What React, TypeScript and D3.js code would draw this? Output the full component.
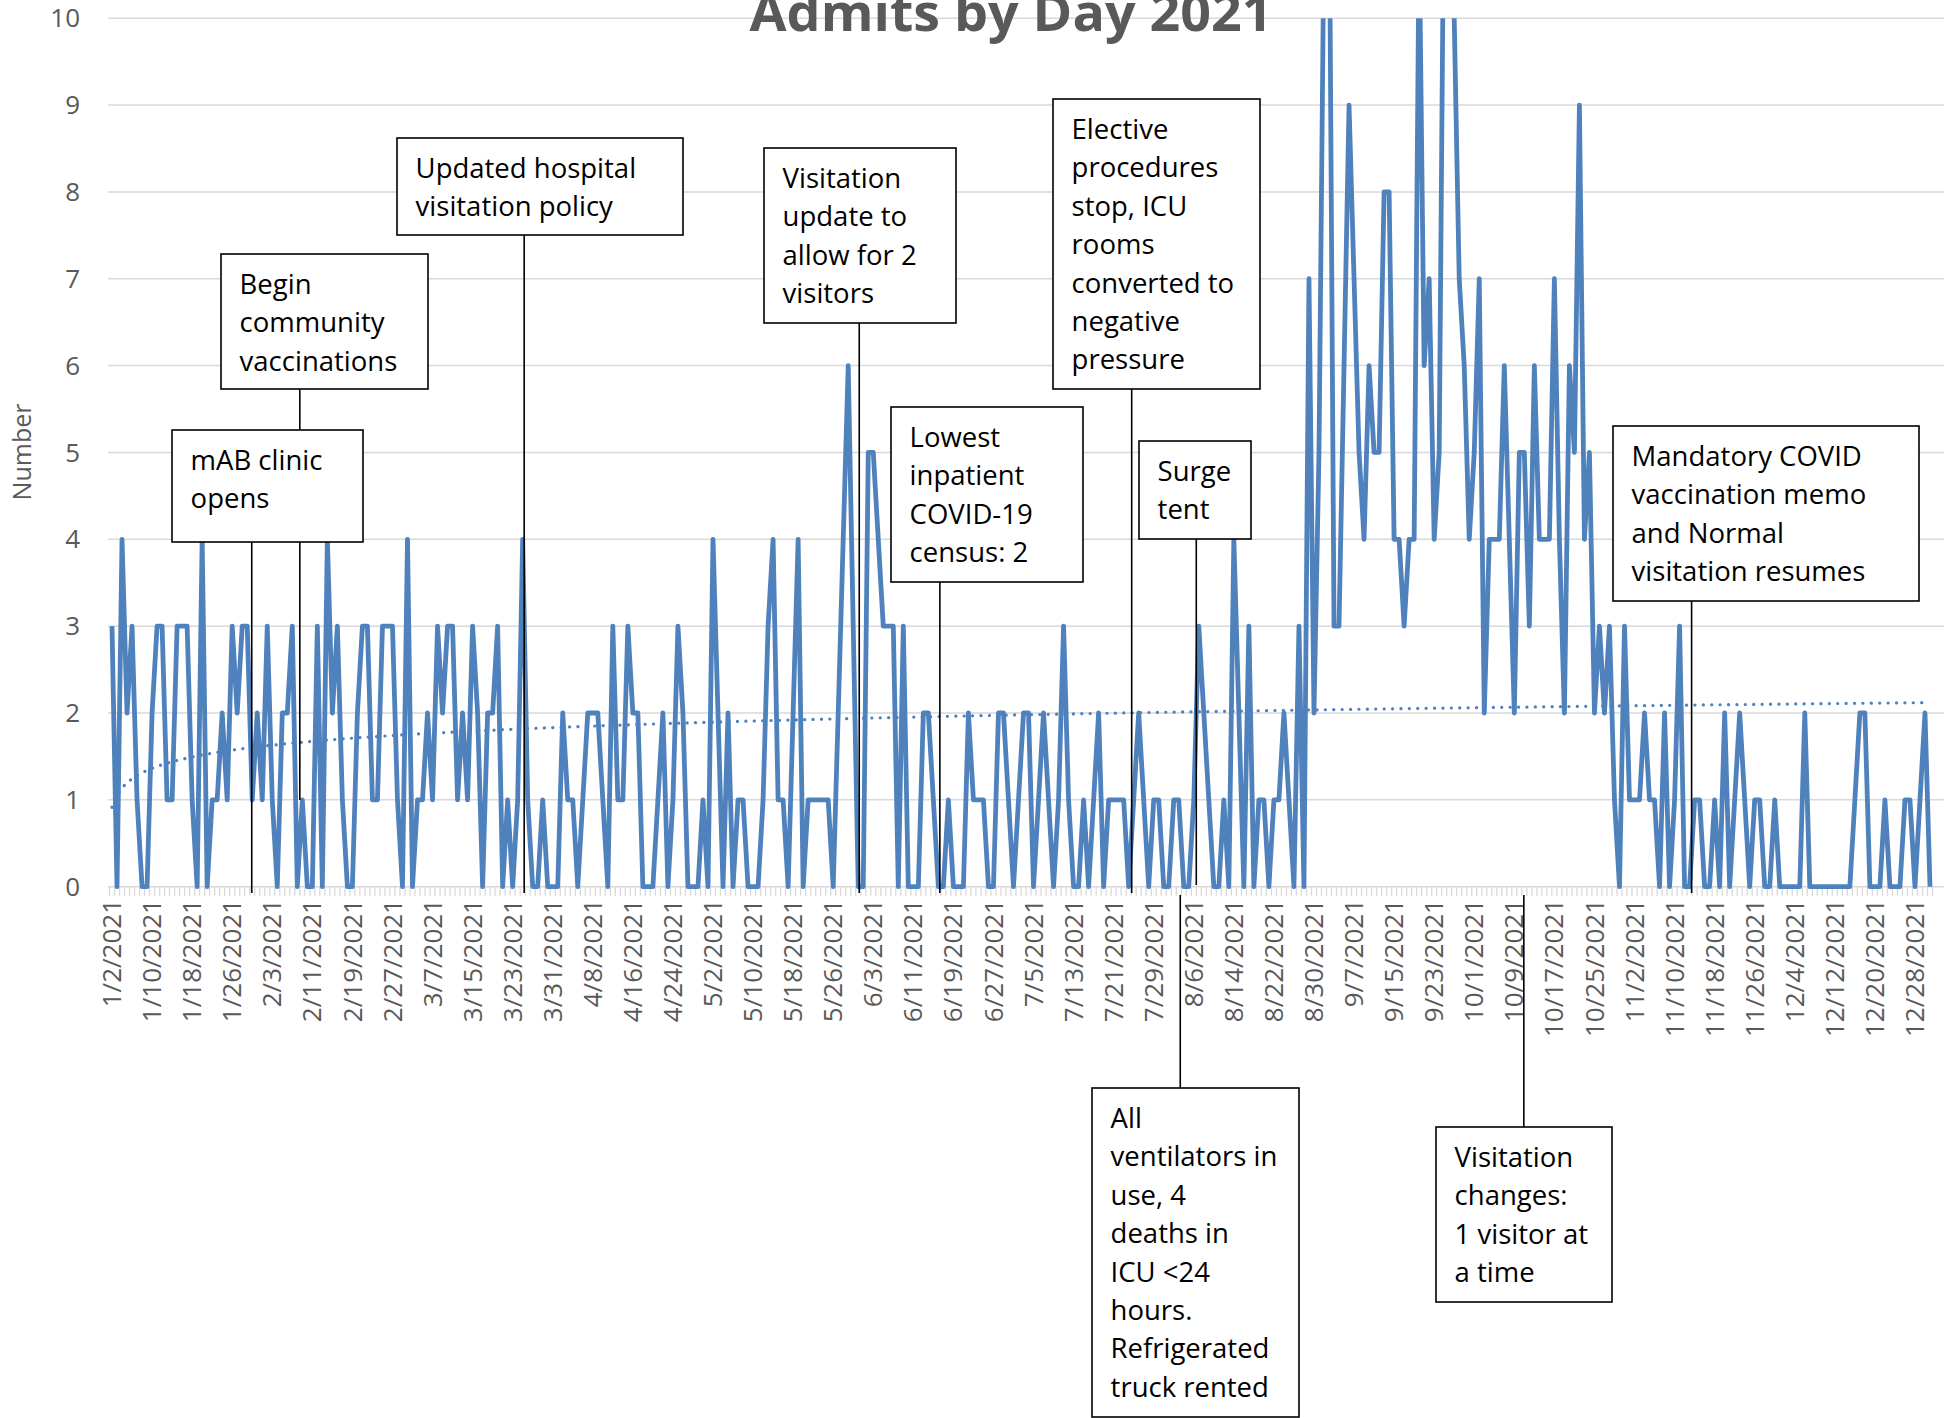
import React from 'react';
import * as d3 from 'd3';

const TITLE = 'Admits by Day 2021';
const Y_TITLE = 'Number';
const START_DATE = '1/2/2021';

// Daily admits, 1/2/2021 .. 12/31/2021
const ADMITS: number[] = [
  3, 0, 4, 2, 3, 1, 0, 0, 2, 3,
  3, 1, 1, 3, 3, 3, 1, 0, 4, 0,
  1, 1, 2, 1, 3, 2, 3, 3, 1, 2,
  1, 3, 1, 0, 2, 2, 3, 0, 1, 0,
  0, 3, 0, 4, 2, 3, 1, 0, 0, 2,
  3, 3, 1, 1, 3, 3, 3, 1, 0, 4,
  0, 1, 1, 2, 1, 3, 2, 3, 3, 1,
  2, 1, 3, 2, 0, 2, 2, 3, 0, 1,
  0, 1, 4, 1, 0, 0, 1, 0, 0, 0,
  2, 1, 1, 0, 1, 2, 2, 2, 1, 0,
  3, 1, 1, 3, 2, 2, 0, 0, 0, 1,
  2, 0, 1, 3, 2, 0, 0, 0, 1, 0,
  4, 2, 0, 2, 0, 1, 1, 0, 0, 0,
  1, 3, 4, 1, 1, 0, 2, 4, 0, 1,
  1, 1, 1, 1, 0, 2, 4, 6, 3, 0,
  0, 5, 5, 4, 3, 3, 3, 0, 3, 0,
  0, 0, 2, 2, 1, 0, 0, 1, 0, 0,
  0, 2, 1, 1, 1, 0, 0, 2, 2, 1,
  0, 1, 2, 2, 0, 1, 2, 1, 0, 1,
  3, 1, 0, 0, 1, 0, 1, 2, 0, 1,
  1, 1, 1, 0, 1, 2, 1, 0, 1, 1,
  0, 0, 1, 1, 0, 0, 1, 3, 2, 1,
  0, 0, 1, 0, 4, 2, 0, 3, 0, 1,
  1, 0, 1, 1, 2, 1, 0, 3, 0, 7,
  2, 5, 11, 12, 3, 3, 6, 9, 7, 5,
  4, 6, 5, 5, 8, 8, 4, 4, 3, 4,
  4, 11, 6, 7, 4, 5, 12, 13, 10, 7,
  6, 4, 5, 7, 2, 4, 4, 4, 6, 4,
  2, 5, 5, 3, 6, 4, 4, 4, 7, 4,
  2, 6, 5, 9, 4, 5, 2, 3, 2, 3,
  1, 0, 3, 1, 1, 1, 2, 1, 1, 0,
  2, 0, 1, 3, 0, 0, 1, 1, 0, 0,
  1, 0, 2, 0, 1, 2, 1, 0, 1, 1,
  0, 0, 1, 0, 0, 0, 0, 0, 2, 0,
  0, 0, 0, 0, 0, 0, 0, 0, 1, 2,
  2, 0, 0, 0, 1, 0, 0, 0, 1, 1,
  0, 1, 2, 0,
];

const X_TICK_STEP = 8;
const X_TICK_LABELS = [
  '1/2/2021', '1/10/2021', '1/18/2021', '1/26/2021', '2/3/2021', '2/11/2021',
  '2/19/2021', '2/27/2021', '3/7/2021', '3/15/2021', '3/23/2021', '3/31/2021',
  '4/8/2021', '4/16/2021', '4/24/2021', '5/2/2021', '5/10/2021', '5/18/2021',
  '5/26/2021', '6/3/2021', '6/11/2021', '6/19/2021', '6/27/2021', '7/5/2021',
  '7/13/2021', '7/21/2021', '7/29/2021', '8/6/2021', '8/14/2021', '8/22/2021',
  '8/30/2021', '9/7/2021', '9/15/2021', '9/23/2021', '10/1/2021', '10/9/2021',
  '10/17/2021', '10/25/2021', '11/2/2021', '11/10/2021', '11/18/2021', '11/26/2021',
  '12/4/2021', '12/12/2021', '12/20/2021', '12/28/2021',
];

const Y_TICKS = [0, 1, 2, 3, 4, 5, 6, 7, 8, 9, 10];

// Annotation texts and the (fractional) day index they point at
const ANNOTATION_TEXT: string[][] = [
  ['mAB clinic', 'opens'],
  ['Begin', 'community', 'vaccinations'],
  ['Updated hospital', 'visitation policy'],
  ['Visitation', 'update to', 'allow for 2', 'visitors'],
  ['Lowest', 'inpatient', 'COVID-19', 'census: 2'],
  ['Elective', 'procedures', 'stop, ICU', 'rooms', 'converted to', 'negative', 'pressure'],
  ['Surge', 'tent'],
  ['Mandatory COVID', 'vaccination memo', 'and Normal', 'visitation resumes'],
  ['All', 'ventilators in', 'use, 4', 'deaths in', 'ICU <24', 'hours.', 'Refrigerated', 'truck rented'],
  ['Visitation', 'changes:', '1 visitor at', 'a time'],
];
const ANNOTATION_DAY = [27.9, 37.5, 82.3, 149.2, 165.3, 203.6, 216.5, 315.4, 213.3, 281.9];

// Layout of callout boxes (x, y, w, h) and connector vertical extent (y1, y2)
const BOX_LAYOUT = [
  { x: 172, y: 430, w: 191, h: 112, c1: 542, c2: 893 },
  { x: 221, y: 254, w: 207, h: 135, c1: 389, c2: 800 },
  { x: 397, y: 138, w: 286, h: 97, c1: 235, c2: 893 },
  { x: 764, y: 148, w: 192, h: 175, c1: 323, c2: 893 },
  { x: 891, y: 407, w: 192, h: 175, c1: 582, c2: 893 },
  { x: 1053, y: 99, w: 207, h: 290, c1: 389, c2: 893 },
  { x: 1139, y: 441, w: 112, h: 98, c1: 539, c2: 885 },
  { x: 1613, y: 426, w: 306, h: 175, c1: 601, c2: 893 },
  { x: 1092, y: 1088, w: 207, h: 329, c1: 895, c2: 1088 },
  { x: 1436, y: 1127, w: 176, h: 175, c1: 895, c2: 1127 },
];

export default function App() {
  const W = 1944;
  const H = 1418;
  const n = ADMITS.length;
  const x = d3.scaleLinear().domain([-0.5, n - 0.5]).range([109.5, 1932.5]);
  const y = d3.scaleLinear().domain([0, 10]).range([886.7, 18.2]);

  const line = d3
    .line<number>()
    .x((_, i) => x(i))
    .y((d) => y(d));

  // Logarithmic trendline (least squares on ln(x), x = 1..n)
  const lx = ADMITS.map((_, i) => Math.log(i + 1));
  const mx = d3.mean(lx) as number;
  const my = d3.mean(ADMITS) as number;
  let sxy = 0;
  let sxx = 0;
  for (let i = 0; i < n; i++) {
    sxy += (lx[i] - mx) * (ADMITS[i] - my);
    sxx += (lx[i] - mx) * (lx[i] - mx);
  }
  const b = sxy / sxx;
  const a = my - b * mx;
  const trend = ADMITS.map((_, i) => a + b * Math.log(i + 1));

  const gray = '#595959';
  const grid = '#d9d9d9';
  const blue = '#4f81bd';
  const font = "'Open Sans', 'DejaVu Sans', sans-serif";

  return (
    <svg
      width={W}
      height={H}
      viewBox={`0 0 ${W} ${H}`}
      style={{ position: 'absolute', left: 0, top: 0, background: '#fff' }}
      data-start={START_DATE}
    >
      <defs>
        <clipPath id="plotClip">
          <rect x={100} y={y(10)} width={W - 100} height={y(0) - y(10) + 4} />
        </clipPath>
      </defs>
      <rect x={0} y={0} width={W} height={H} fill="#fff" />

      {/* gridlines */}
      {Y_TICKS.map((t) => (
        <line key={'g' + t} x1={108} x2={W} y1={y(t)} y2={y(t)} stroke={grid} strokeWidth={1.5} />
      ))}
      {/* minor day ticks */}
      {d3.range(n + 1).map((i) => (
        <line
          key={'t' + i}
          x1={x(i - 0.5)}
          x2={x(i - 0.5)}
          y1={y(0)}
          y2={y(0) + 9}
          stroke={grid}
          strokeWidth={1.3}
        />
      ))}

      {/* title */}
      <text
        x={1011}
        y={31}
        textAnchor="middle"
        fontFamily={font}
        fontWeight={700}
        fontSize={52}
        fill={gray}
        textLength={523}
        lengthAdjust="spacingAndGlyphs"
      >
        {TITLE}
      </text>

      {/* y tick labels */}
      {Y_TICKS.map((t) => (
        <text
          key={'yl' + t}
          x={80}
          y={y(t)}
          dy="0.35em"
          textAnchor="end"
          fontFamily={font}
          fontSize={26}
          fill={gray}
        >
          {t}
        </text>
      ))}
      <text
        transform={`translate(22,452) rotate(-90)`}
        textAnchor="middle"
        dy="0.35em"
        fontFamily={font}
        fontSize={25}
        fill={gray}
      >
        {Y_TITLE}
      </text>

      {/* x tick labels */}
      {X_TICK_LABELS.map((lab, k) => (
        <text
          key={'xl' + k}
          transform={`translate(${x(k * X_TICK_STEP)},899) rotate(-90)`}
          textAnchor="end"
          dy="0.35em"
          fontFamily={font}
          fontSize={26}
          fill={gray}
        >
          {lab}
        </text>
      ))}

      {/* series */}
      <g clipPath="url(#plotClip)">
        <path d={line(ADMITS) || ''} fill="none" stroke={blue} strokeWidth={4.8} strokeLinejoin="round" />
        <path
          d={line(trend) || ''}
          fill="none"
          stroke={blue}
          strokeWidth={3.2}
          strokeLinecap="round"
          strokeDasharray="0.1 8.3"
        />
      </g>

      {/* annotation connectors (under boxes) */}
      {ANNOTATION_DAY.map((d, k) => {
        const L = BOX_LAYOUT[k];
        const cx = x(d);
        return <line key={'c' + k} x1={cx} x2={cx} y1={L.c1} y2={L.c2} stroke="#000" strokeWidth={1.6} />;
      })}

      {/* annotation boxes */}
      {ANNOTATION_TEXT.map((lines, k) => {
        const L = BOX_LAYOUT[k];
        return (
          <g key={'a' + k}>
            <rect x={L.x} y={L.y} width={L.w} height={L.h} fill="#fff" stroke="#000" strokeWidth={1.6} />
            {lines.map((s, j) => (
              <text
                key={j}
                x={L.x + 18.6}
                y={L.y + 40 + j * 38.4}
                fontFamily={font}
                fontSize={27.5}
                fill="#000"
              >
                {s}
              </text>
            ))}
          </g>
        );
      })}
    </svg>
  );
}
